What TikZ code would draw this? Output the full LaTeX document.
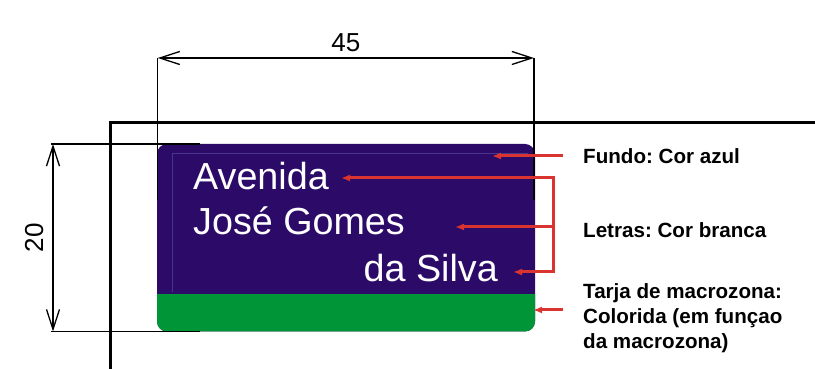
\documentclass[tikz,border=0pt]{standalone}
\usepackage{fontspec}
\setmainfont{Liberation Sans}
\usetikzlibrary{arrows.meta,positioning}
\definecolor{signblue}{RGB}{44,10,104}
\definecolor{signline}{RGB}{72,52,138}
\definecolor{tarja}{RGB}{0,150,56}
\definecolor{callred}{RGB}{218,52,48}
\frenchspacing
\begin{document}
\begin{tikzpicture}[x=1pt,y=1pt,
  dimline/.style={line width=1.3pt,{Straight Barb[length=20pt,width=13pt]}-{Straight Barb[length=20pt,width=13pt]}},
  extline/.style={line width=1.3pt},
  redarrow/.style={callred,line width=3pt,-{Latex[length=9pt,width=7pt]}},
  signtext/.style={white,font=\fontsize{37.7}{40}\selectfont,inner sep=0pt},
  calltext/.style={anchor=west,align=left,inner sep=0pt,font=\bfseries\fontsize{20.6}{25}\selectfont}]
\useasboundingbox (0,0) rectangle (815,369);

% placa
\fill[signblue,rounded corners=10pt] (157,37.5) rectangle (535,225);
\begin{scope}
\clip[rounded corners=10pt] (157,37.5) rectangle (535,225);
\fill[tarja] (150,30) rectangle (540,75);
\end{scope}
\draw[signline,line width=0.8pt] (172,77)--(172,216)--(528,216);

\node[signtext,anchor=base west] (av) at (193,179){Avenida};
\node[signtext,anchor=base west] (jg) at (193,134){José Gomes};
\node[signtext,anchor=base east] (ds) at (498,87){da Silva};

% moldura
\draw[line width=3pt] (110,0)--(110,246.5)--(815,246.5);

% cotas
\coordinate (dl) at (157.7,311);
\coordinate (dr) at (534,311);
\draw[extline] (dl)--(157.7,169);
\draw[extline] (dr)--(534,169);
\draw[dimline] (dl)--(dr) node[midway,above=6pt,inner sep=0pt,font=\fontsize{26}{28}\selectfont] (w) {45};

\coordinate (dt) at (53,225);
\coordinate (db) at (53,37.5);
\draw[extline] (51,225)--(200,225);
\draw[extline] (51,37.5)--(200,37.5);
\draw[dimline] (dt)--(db) node[midway,left=9pt,inner sep=0pt,rotate=90,anchor=south,font=\fontsize{26}{28}\selectfont] (h) {20};

% chamadas
\node[calltext] (fundo) at (583,213){Fundo: Cor azul};
\node[calltext] (letras) at (583,139){Letras: Cor branca};
\node[calltext] (tarjatxt) at (583,51){Tarja de macrozona:\\Colorida (em funçao\\da macrozona)};

\coordinate (fa) at (563,213);
\coordinate (fb) at (492,213);
\coordinate (ta) at (563,59);
\coordinate (tb) at (533,59);
\coordinate (bt) at (553,191);
\coordinate (bm) at (553,142);
\coordinate (bb) at (553,97);
\coordinate (tav) at (341,191);
\coordinate (tjg) at (455,142);
\coordinate (tds) at (513,97);

\draw[redarrow] (fa)--(fb);
\draw[redarrow] (ta)--(tb);
\draw[callred,line width=3pt] ([yshift=1.5pt]bt)--([yshift=-1.5pt]bb);
\draw[redarrow] (bt)--(tav);
\draw[redarrow] (bm)--(tjg);
\draw[redarrow] (bb)--(tds);
\end{tikzpicture}
\end{document}
